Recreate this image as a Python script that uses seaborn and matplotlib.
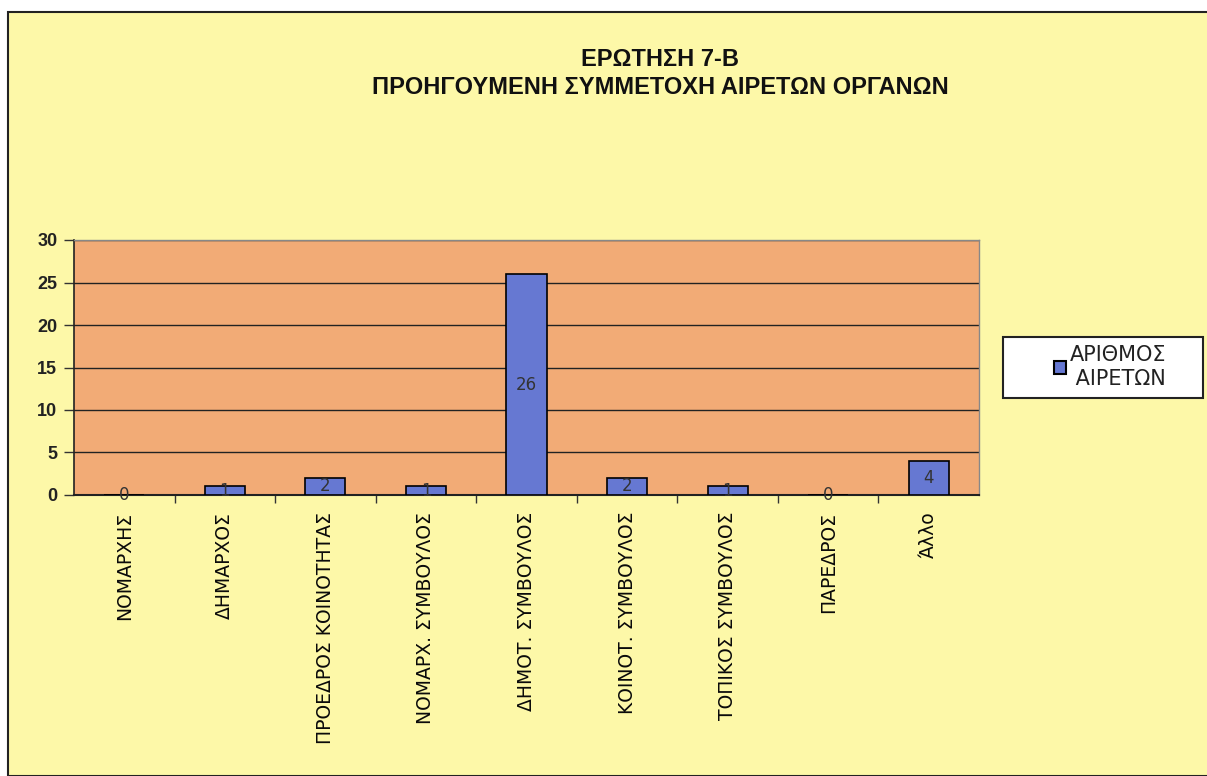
import matplotlib
matplotlib.use("Agg")
import matplotlib.pyplot as plt
import matplotlib.patches as mpatches
import seaborn as sns
import pandas as pd

categories = ["ΝΟΜΑΡΧΗΣ", "ΔΗΜΑΡΧΟΣ", "ΠΡΟΕΔΡΟΣ ΚΟΙΝΟΤΗΤΑΣ", "ΝΟΜΑΡΧ. ΣΥΜΒΟΥΛΟΣ",
              "ΔΗΜΟΤ. ΣΥΜΒΟΥΛΟΣ", "ΚΟΙΝΟΤ. ΣΥΜΒΟΥΛΟΣ", "ΤΟΠΙΚΟΣ ΣΥΜΒΟΥΛΟΣ",
              "ΠΑΡΕΔΡΟΣ", "Άλλο"]
values = [0, 1, 2, 1, 26, 2, 1, 0, 4]
yticks = [0, 5, 10, 15, 20, 25, 30]
title_lines = ["ΕΡΩΤΗΣΗ 7-Β", "ΠΡΟΗΓΟΥΜΕΝΗ ΣΥΜΜΕΤΟΧΗ ΑΙΡΕΤΩΝ ΟΡΓΑΝΩΝ"]
legend_label = "ΑΡΙΘΜΟΣ\n ΑΙΡΕΤΩΝ"

sns.set_theme(style="white")
plt.rcParams['font.family'] = ['Liberation Sans', 'DejaVu Sans']

YELLOW = "#FDF8A8"
ORANGE = "#F2AB76"
BLUE = "#6678D2"

df = pd.DataFrame({"cat": categories, "val": values})

W, H = 1207, 776
fig = plt.figure(figsize=(W/100, H/100), dpi=100)
fig.patch.set_facecolor("white")
# chart area background with border
bg = mpatches.Rectangle((8/W, 0), 1.2, 1 - 12/H, transform=fig.transFigure,
                        facecolor=YELLOW, edgecolor="#222222", linewidth=1.5, zorder=-10)
fig.patches.append(bg)

ax = fig.add_axes([74/W, 1 - 495/H, 905/W, 255/H])
ax.set_facecolor(ORANGE)
sns.barplot(data=df, x="cat", y="val", color=BLUE, width=0.4, saturation=1,
            edgecolor="black", linewidth=1.2, ax=ax, zorder=3)

ax.set_ylim(0, 30)
ax.set_xlim(-0.5, len(categories) - 0.5)
ax.set_yticks(yticks)
ax.set_yticklabels([str(t) for t in yticks], fontsize=13, fontweight="bold", color="#222222")
ax.yaxis.grid(True, color="#222222", linewidth=1.0, zorder=1)
ax.set_axisbelow(True)
ax.set_xlabel("")
ax.set_ylabel("")

# x tick labels at category centers, tick marks at boundaries
ax.set_xticks(range(len(categories)))
ax.set_xticklabels(categories, rotation=90, fontsize=13.5, family="DejaVu Sans", color="#0a0a0a")
ax.tick_params(axis="x", which="major", length=0, pad=12)
ax.set_xticks([i + 0.5 for i in range(len(categories) - 1)], minor=True)
ax.tick_params(axis="x", which="minor", length=6, width=1, color="#333333", direction="out", bottom=True)
ax.tick_params(axis="y", length=7, width=1, color="#333333", direction="out", left=True, pad=5)

for side in ["top", "right"]:
    ax.spines[side].set_color("#888888")
    ax.spines[side].set_linewidth(1.0)
ax.spines["left"].set_color("#222222")
ax.spines["bottom"].set_color("#222222")
ax.spines["left"].set_linewidth(1.2)
ax.spines["bottom"].set_linewidth(1.5)

for cont in ax.containers:
    ax.bar_label(cont, labels=[str(v) for v in values], label_type="center",
                 fontsize=12, color="#333333", family="DejaVu Sans")

fig.text(660/W, 1 - 60/H, title_lines[0], ha="center", va="center",
         fontsize=17, fontweight="bold", color="#111111")
fig.text(660/W, 1 - 88/H, title_lines[1], ha="center", va="center",
         fontsize=17, fontweight="bold", color="#111111")

# legend box
box = mpatches.Rectangle((1003/W, 1 - 398/H), 200/W, 61/H, transform=fig.transFigure,
                         facecolor="white", edgecolor="#222222", linewidth=1.5, zorder=5)
fig.patches.append(box)
handle = mpatches.Patch(facecolor=BLUE, edgecolor="black", linewidth=1.5)
leg = fig.legend([handle], [legend_label], loc="center", bbox_to_anchor=(1110/W, 1 - 367/H),
                 frameon=False, handlelength=0.6, handleheight=0.6, handletextpad=0.15,
                 prop={"family": "DejaVu Sans", "size": 15})
leg.set_zorder(6)
for t in leg.get_texts():
    t.set_color("#222222")

fig.savefig("out.png", dpi=100, facecolor=fig.get_facecolor())
